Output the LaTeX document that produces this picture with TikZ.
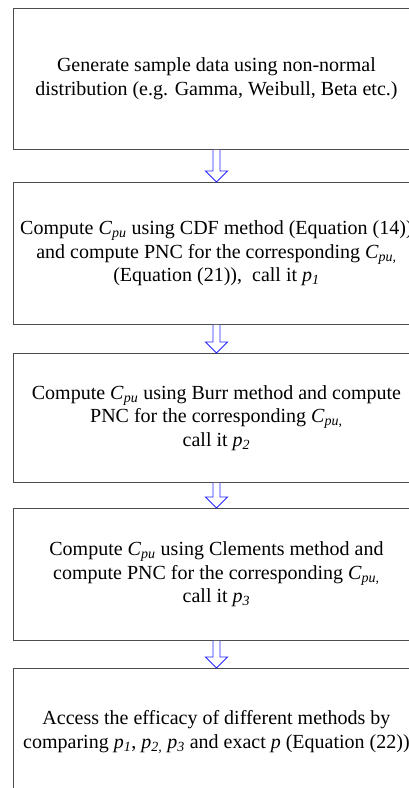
\documentclass[tikz,border=0pt]{standalone}
\usepackage{fontspec}
\setmainfont{Liberation Serif}
\usetikzlibrary{calc}
\newcommand\myC[1]{\textit{C}\textsubscript{\textit{#1}}}
\newcommand\myP[1]{\textit{p}\textsubscript{\textit{#1}}}
\tikzset{
  box/.style={draw=black!70, line width=0.9pt, minimum width=406pt, align=center, inner sep=0pt,
    font=\fontsize{20}{23.5}\selectfont, anchor=north west},
  blockarr/.style={draw=blue!85, line width=0.9pt, fill=white, line join=miter}
}
\newcommand\barrow[2]{%
  \draw[blockarr] ($(#1.south)+(-3.5pt,0)$) -- ($(#2.north)+(-3.5pt,11pt)$) -- ($(#2.north)+(-11pt,11pt)$)
    -- (#2.north) -- ($(#2.north)+(11pt,11pt)$) -- ($(#2.north)+(3.5pt,11pt)$) -- ($(#1.south)+(3.5pt,0)$);}
\begin{document}
\begin{tikzpicture}[x=1pt,y=1pt]
\useasboundingbox[fill=white] (0,0) rectangle (409,-788);
\node[box, minimum height=141pt] (b1) at (13,-8) {Generate sample data using non-normal\\distribution (e.g. Gamma, Weibull, Beta etc.)};
\node[box, minimum height=142pt] (b2) at (13,-182) {Compute \myC{pu} using CDF method (Equation (14))\\and compute PNC for the corresponding \myC{pu,}\\(Equation (21)),\ \ call it \myP{1}};
\node[box, minimum height=129pt] (b3) at (13,-353) {Compute \myC{pu} using Burr method and compute\\PNC for the corresponding \myC{pu,}\\call it \myP{2}};
\node[box, minimum height=132pt] (b4) at (13,-508) {Compute \myC{pu} using Clements method and\\compute PNC for the corresponding \myC{pu,}\\call it \myP{3}};
\node[box, minimum height=127pt] (b5) at (13,-668) {Access the efficacy of different methods by\\comparing \myP{1}, \myP{2,} \myP{3} and exact \textit{p} (Equation (22))};
\barrow{b1}{b2}
\barrow{b2}{b3}
\barrow{b3}{b4}
\barrow{b4}{b5}
\end{tikzpicture}
\end{document}
